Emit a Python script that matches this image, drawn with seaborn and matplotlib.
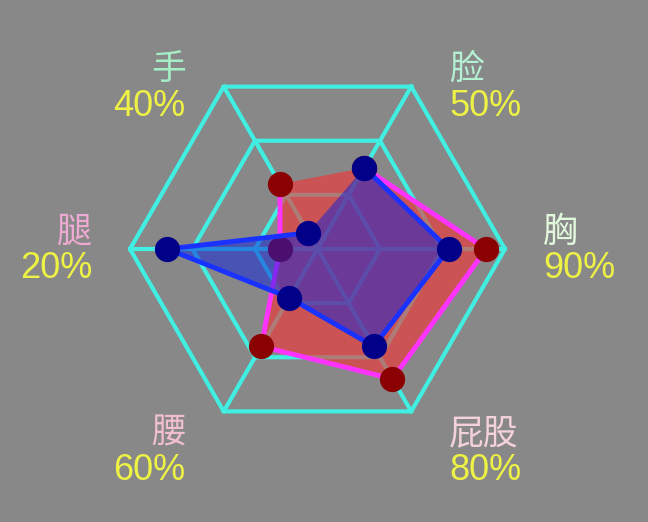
import numpy as np
import matplotlib
matplotlib.use('Agg')
import matplotlib.pyplot as plt
import seaborn as sns

# Radar data (clockwise from the upper-right axis)
categories = ['脸', '胸', '屁股', '腰', '腿', '手']
value_labels = ['50%', '90%', '80%', '60%', '20%', '40%']
series_red = [50, 90, 80, 60, 20, 40]
series_blue = [50, 70, 60, 30, 80, 10]
max_value = 100
split_number = 3

name_colors = ['#b4f0d2', '#e2f8dc', '#f4d2da', '#f2bed2', '#eeaad2', '#a4eec6']
value_color = '#eef244'
bg_color = '#888888'
grid_color = '#40eee2'

plt.rcParams['font.family'] = ['Noto Sans CJK SC', 'DejaVu Sans']

fig = plt.figure(figsize=(6.48, 5.22), dpi=100, facecolor=bg_color)
ax = fig.add_axes([0.2006, 0.1638, 0.5787, 0.7184], projection='polar')
ax.patch.set_visible(False)
ax.spines['polar'].set_visible(False)
ax.grid(False)
ax.set_xticks([])
ax.set_yticks([])
ax.set_ylim(0, max_value)

angles = np.deg2rad(60 - 60 * np.arange(len(categories)))
closed = np.append(angles, angles[0])

# hexagon grid + spokes
for k in range(1, split_number + 1):
    level = max_value * k / split_number
    ax.plot(closed, [level] * len(closed), color=grid_color, lw=3, zorder=1, clip_on=False)
for a in angles:
    ax.plot([a, a], [0, max_value], color=grid_color, lw=3, zorder=1, clip_on=False)

def draw_series(vals, fill, alpha, line, marker, z):
    v = np.append(vals, vals[0])
    ax.fill(closed, v, color=fill, alpha=alpha, lw=0, zorder=z)
    sns.lineplot(x=closed, y=v, ax=ax, sort=False, color=line, lw=3.5,
                 legend=False, zorder=z + 0.1)
    sns.scatterplot(x=angles, y=vals, ax=ax, color=marker, s=330,
                    linewidth=0, legend=False, zorder=z + 0.2)

draw_series(series_red, '#f83030', 0.6, '#ff33ff', '#8b0000', 2)
draw_series(series_blue, '#0c20de', 0.5, '#1932ff', '#000088', 3)
ax.set_xlabel('')
ax.set_ylabel('')

# axis names and values
for a, name, val, nc in zip(angles, categories, value_labels, name_colors):
    c = np.cos(a)
    s = np.sin(a)
    dx = 38 if c > 0.1 else -38
    ha = 'left' if c > 0.1 else 'right'
    dy = 17 if s > -0.1 else -22
    ax.annotate(name, xy=(a, max_value), xytext=(dx, dy), textcoords='offset pixels',
                ha=ha, va='center', fontsize=25, color=nc,
                family=['Noto Sans CJK SC'], annotation_clip=False)
    ax.annotate(val, xy=(a, max_value), xytext=(dx, dy - 37), textcoords='offset pixels',
                ha=ha, va='center', fontsize=26, color=value_color,
                family=['Liberation Sans'], annotation_clip=False)

fig.savefig('out.png', dpi=100, facecolor=bg_color)
